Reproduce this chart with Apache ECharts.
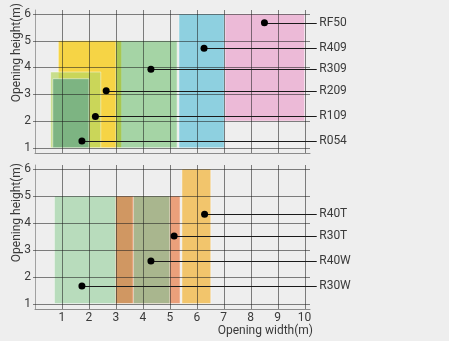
<!DOCTYPE html>
<html><head><meta charset="utf-8">
<script src="https://cdn.jsdelivr.net/npm/echarts@6/dist/echarts.min.js"></script>
<style>html,body{margin:0;padding:0;background:#eeeeee;}#c{width:449px;height:341px;}</style>
</head><body><div id="c"></div>
<script>
// ---- data ----
const xTicks = [1, 2, 3, 4, 5, 6, 7, 8, 9, 10];
const yTicks = [1, 2, 3, 4, 5, 6];
const xAxisTitle = 'Opening width(m)';
const yAxisTitle = 'Opening height(m)';

// top panel (listed top label to bottom label)
const topProducts   = ['RF50', 'R409', 'R309', 'R209', 'R109', 'R054'];
const topWidthMin   = [7.05, 5.34, 3.0, 0.865, 0.58, 0.66];
const topWidthMax   = [10.0, 7.02, 5.27, 3.21, 2.44, 2.0];
const topHeightMin  = [2, 1, 1, 1, 1, 1];
const topHeightMax  = [6, 6, 5, 5, 3.83, 3.58];
const topDotX       = [8.51, 6.27, 4.30, 2.64, 2.24, 1.74];
const topDotY       = [5.67, 4.72, 3.93, 3.13, 2.17, 1.25];
const topDrawOrder  = ['R209', 'R309', 'R409', 'RF50', 'R109', 'R054'];

// bottom panel
const botProducts   = ['R40T', 'R30T', 'R40W', 'R30W'];
const botWidthMin   = [5.45, 2.99, 3.65, 0.72];
const botWidthMax   = [6.52, 5.38, 5.0, 3.61];
const botHeightMin  = [1, 1, 1, 1];
const botHeightMax  = [6, 5, 5, 5];
const botDotX       = [6.29, 5.16, 4.30, 1.74];
const botDotY       = [4.32, 3.51, 2.58, 1.65];
const botDrawOrder  = ['R30W', 'R30T', 'R40W', 'R40T'];

// ---- styles ----
const FONT = "Roboto, 'Noto Sans', sans-serif";
const TEXT_COLOR = '#3a3a3a';
const GRID_LINE = 'rgba(30,30,30,0.55)';
const X_MIN = 0, X_MAX = 10.2, Y_MIN = 0.8, Y_MAX = 6.15;
const LEADER_END = 10.45;
const fills = {
  RF50: '#ecbad7',
  R409: '#8ed0e0',
  R309: 'rgba(92,186,92,0.5)',
  R209: '#f6d445',
  R109: 'rgba(184,215,98,0.7)',
  R054: '#7db482',
  R40T: '#f2c56c',
  R30T: 'rgba(232,82,8,0.5)',
  R40W: '#a9b68e',
  R30W: '#b8dcbc'
};

function rectData(order, names, wMin, wMax, hMin, hMax) {
  return order.map(n => {
    const i = names.indexOf(n);
    return { name: n, value: [wMin[i], hMin[i], wMax[i], hMax[i]] };
  });
}
function rectSeries(idx, data) {
  return {
    type: 'custom', xAxisIndex: idx, yAxisIndex: idx, z: 2, silent: true,
    data: data,
    encode: { x: [0, 2], y: [1, 3] },
    renderItem: function (params, api) {
      const d = data[params.dataIndex];
      const a = api.coord([api.value(0), api.value(3)]);
      const b = api.coord([api.value(2), api.value(1)]);
      return { type: 'rect', shape: { x: a[0], y: a[1], width: b[0] - a[0], height: b[1] - a[1] },
               style: { fill: fills[d.name], stroke: 'rgba(255,255,255,0.45)', lineWidth: 1 } };
    }
  };
}
function gridSeries(idx) {
  const data = xTicks.map(v => [v, 0]).concat(yTicks.map(v => [0, v]));
  const nv = xTicks.length;
  return {
    type: 'custom', xAxisIndex: idx, yAxisIndex: idx, z: 3, silent: true, clip: false,
    data: data,
    renderItem: function (params, api) {
      let p1, p2;
      if (params.dataIndex < nv) {
        const x = api.value(0);
        p1 = api.coord([x, Y_MIN]); p2 = api.coord([x, Y_MAX]);
        const px = Math.round(p1[0]) + 0.5;
        p1[0] = px; p2[0] = px;
      } else {
        const y = api.value(1);
        p1 = api.coord([X_MIN, y]); p2 = api.coord([X_MAX, y]);
        p1[0] -= 2;
        const py = Math.round(p1[1]) + 0.5;
        p1[1] = py; p2[1] = py;
      }
      return { type: 'line', shape: { x1: p1[0], y1: p1[1], x2: p2[0], y2: p2[1] },
               style: { stroke: GRID_LINE, lineWidth: 1 } };
    }
  };
}
function labelSeries(idx, names, dx, dy) {
  const data = names.map((n, i) => ({ name: n, value: [dx[i], dy[i]] }));
  return {
    type: 'custom', xAxisIndex: idx, yAxisIndex: idx, z: 5, silent: true, clip: false,
    data: data,
    renderItem: function (params, api) {
      const p = api.coord([api.value(0), api.value(1)]);
      const e = api.coord([LEADER_END, api.value(1)]);
      const y = Math.round(p[1]) + 0.5;
      return { type: 'group', children: [
        { type: 'line', shape: { x1: p[0], y1: y, x2: e[0], y2: y }, style: { stroke: '#1a1a1a', lineWidth: 1 } },
        { type: 'circle', shape: { cx: p[0], cy: p[1], r: 3.5 }, style: { fill: '#000' } },
        { type: 'text', x: e[0] + 2.5, y: p[1], style: { text: data[params.dataIndex].name, fill: TEXT_COLOR,
          font: '12px ' + FONT, textAlign: 'left', textVerticalAlign: 'middle' } }
      ] };
    }
  };
}
function xAxis(idx, showLabels) {
  return {
    type: 'value', gridIndex: idx, min: X_MIN, max: X_MAX,
    axisLine: { show: true, lineStyle: { color: '#8c8c8c', width: 1 } },
    axisTick: { show: false },
    splitLine: { show: false },
    axisLabel: { show: showLabels, customValues: xTicks, margin: 3, color: TEXT_COLOR, fontSize: 12, fontFamily: FONT }
  };
}
function yAxis(idx) {
  return {
    type: 'value', gridIndex: idx, min: Y_MIN, max: Y_MAX,
    axisLine: { show: true, lineStyle: { color: '#a0a0a0', width: 1 } },
    axisTick: { show: false },
    splitLine: { show: false },
    axisLabel: { customValues: yTicks, margin: 4, color: TEXT_COLOR, fontSize: 12, fontFamily: FONT }
  };
}

const chart = echarts.init(document.getElementById('c'), null, { renderer: 'canvas' });
chart.setOption({
  backgroundColor: '#eeeeee',
  animation: false,
  grid: [
    { left: 35, top: 10, width: 275, height: 143 },
    { left: 35, top: 165, width: 275, height: 144 }
  ],
  xAxis: [xAxis(0, false), xAxis(1, true)],
  yAxis: [yAxis(0), yAxis(1)],
  graphic: [
    { type: 'text', x: 17, y: 3, rotation: Math.PI / 2,
      style: { text: yAxisTitle, fill: TEXT_COLOR, font: '12px ' + FONT, textAlign: 'right', textVerticalAlign: 'middle' } },
    { type: 'text', x: 17, y: 163, rotation: Math.PI / 2,
      style: { text: yAxisTitle, fill: TEXT_COLOR, font: '12px ' + FONT, textAlign: 'right', textVerticalAlign: 'middle' } },
    { type: 'text', x: 313, y: 331,
      style: { text: xAxisTitle, fill: TEXT_COLOR, font: '12px ' + FONT, textAlign: 'right', textVerticalAlign: 'middle' } }
  ],
  series: [
    rectSeries(0, rectData(topDrawOrder, topProducts, topWidthMin, topWidthMax, topHeightMin, topHeightMax)),
    gridSeries(0),
    labelSeries(0, topProducts, topDotX, topDotY),
    rectSeries(1, rectData(botDrawOrder, botProducts, botWidthMin, botWidthMax, botHeightMin, botHeightMax)),
    gridSeries(1),
    labelSeries(1, botProducts, botDotX, botDotY)
  ]
});
</script></body></html>
